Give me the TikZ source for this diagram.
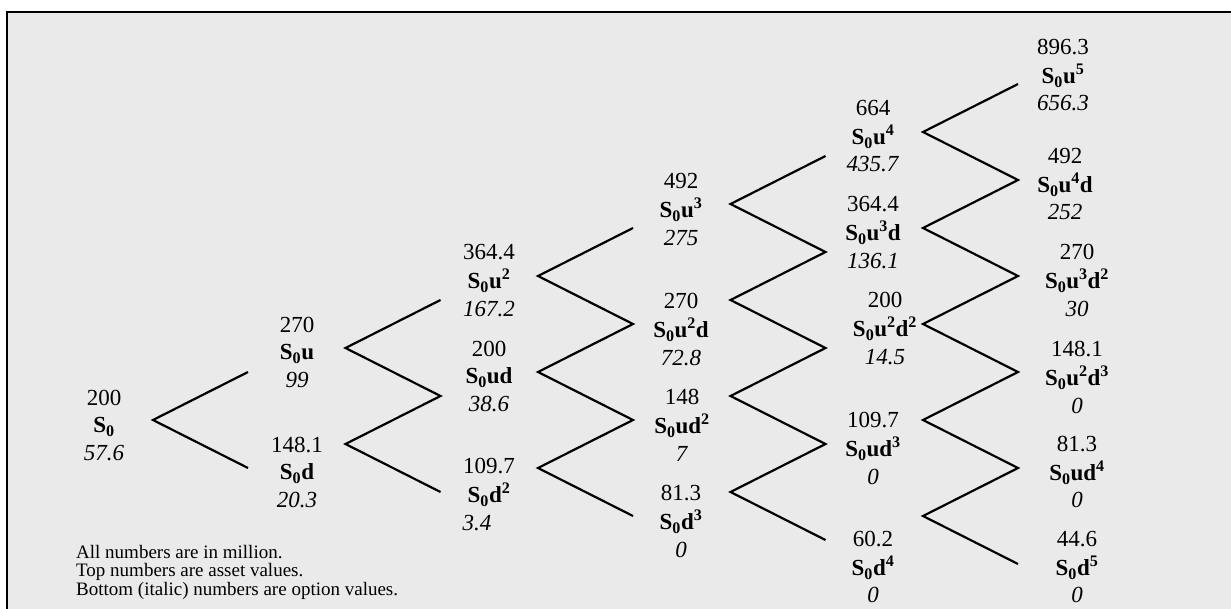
\documentclass[tikz,border=0pt]{standalone}
\usepackage{fontspec}
\setmainfont{Liberation Serif}
\definecolor{bggray}{RGB}{234,234,234}
\tikzset{
  lab/.style={align=center, inner sep=0pt, font=\fontsize{23}{27.5}\selectfont},
  note/.style={anchor=base west, inner sep=0pt, font=\fontsize{19}{19}\selectfont},
  branch/.style={line width=2.2pt, line join=miter},
  frame/.style={line width=2pt},
}
\newcommand\Sz{S\textsubscript{0}}
\newcommand\lbl[6]{\node[lab] (#1) at (#2,#3+2.3) {\strut #4\\\strut\textbf{#5}\\\strut\textit{#6}};}
\begin{document}
\begin{tikzpicture}[x=1pt,y=-1pt]
\useasboundingbox (0,0) rectangle (1231,608);
\clip (0,0) rectangle (1231,608);
\fill[bggray] (7,11.5) rectangle (1260,640);
\draw[frame] (7,640) -- (7,11.5) -- (1260,11.5);

% lattice coordinates and zigzags
\foreach \k in {0,...,4} {
  \pgfmathsetmacro\xv{153+192.5*\k}
  \pgfmathsetmacro\xe{\xv+95}
  \pgfmathtruncatemacro\kk{\k+1}
  \foreach \j in {0,...,\k} { \coordinate (v\k-\j) at (\xv,420-72*\k+96*\j); }
  \foreach \m in {0,...,\kk} { \coordinate (e\k-\m) at (\xe,420-72*\k-48+96*\m); }
  \draw[branch] (e\k-0) foreach[evaluate=\j as \jj using int(\j+1)] \j in {0,...,\k} { -- (v\k-\j) -- (e\k-\jj) };
}

% labels
\lbl{n0}{104}{425}{200}{\Sz}{57.6}
\lbl{n1u}{297}{352}{270}{\Sz u}{99}
\lbl{n1d}{297}{472}{148.1}{\Sz d}{20.3}
\lbl{n2a}{489}{280}{364.4}{\Sz u\textsuperscript{2}}{167.2}
\lbl{n2b}{489}{376}{200}{\Sz ud}{38.6}
\lbl{n2c}{489}{494}{109.7}{\Sz d\textsuperscript{2}}{\hspace*{-24pt}3.4}
\lbl{n3a}{681}{209}{492}{\Sz u\textsuperscript{3}}{275}
\lbl{n3b}{681}{329}{270}{\Sz u\textsuperscript{2}d}{72.8}
\lbl{n3c}{682}{425}{148}{\Sz ud\textsuperscript{2}}{7}
\lbl{n3d}{681}{521}{81.3}{\Sz d\textsuperscript{3}}{0}
\lbl{n4a}{873}{136}{664}{\Sz u\textsuperscript{4}}{435.7}
\lbl{n4b}{873}{232}{364.4}{\Sz u\textsuperscript{3}d}{136.1}
\lbl{n4c}{885}{328}{200}{\Sz u\textsuperscript{2}d\textsuperscript{2}}{14.5}
\lbl{n4d}{873}{448}{109.7}{\Sz ud\textsuperscript{3}}{0}
\lbl{n4e}{873}{567}{60.2}{\Sz d\textsuperscript{4}}{0}
\lbl{n5a}{1063}{75}{896.3}{\Sz u\textsuperscript{5}}{656.3}
\lbl{n5b}{1065}{184}{492}{\Sz u\textsuperscript{4}d}{252}
\lbl{n5c}{1077}{280}{270}{\Sz u\textsuperscript{3}d\textsuperscript{2}}{30}
\lbl{n5d}{1077}{377}{148.1}{\Sz u\textsuperscript{2}d\textsuperscript{3}}{0}
\lbl{n5e}{1077}{472}{81.3}{\Sz ud\textsuperscript{4}}{0}
\lbl{n5f}{1077}{567}{44.6}{\Sz d\textsuperscript{5}}{0}

% notes
\node[note] (note1) at (76,558.3) {All numbers are in million.};
\node[note] (note2) at (76,576.7) {Top numbers are asset values.};
\node[note] (note3) at (76,595) {Bottom (italic) numbers are option values.};
\end{tikzpicture}
\end{document}
